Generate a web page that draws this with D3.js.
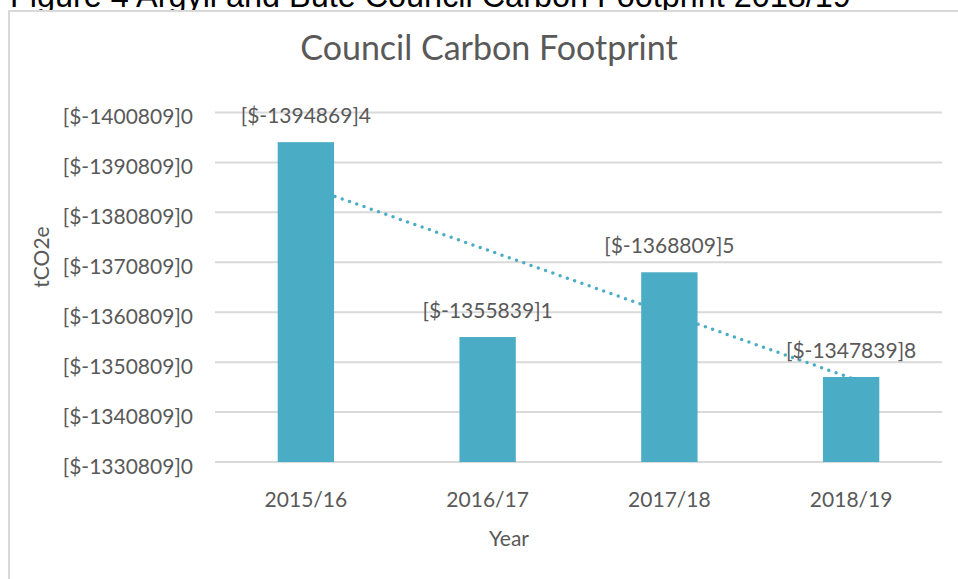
<!DOCTYPE html>
<html>
<head>
<meta charset="utf-8">
<script src="https://cdn.jsdelivr.net/npm/d3@7"></script>
<style>
  body { margin: 0; background: #fff; }
  svg { display: block; }
  text { font-family: Lato, "Open Sans", sans-serif; fill: #595959; }
</style>
</head>
<body>
<svg width="958" height="579"></svg>
<script>
// chart data
const years = ['2015/16', '2016/17', '2017/18', '2018/19'];
const emissions = [64060, 25030, 38000, 17030];
const barLabels = ['[$-1394869]4', '[$-1355839]1', '[$-1368809]5', '[$-1347839]8'];
const tickValues = [0, 10000, 20000, 30000, 40000, 50000, 60000, 70000];
const tickLabels = ['[$-1330809]0', '[$-1340809]0', '[$-1350809]0', '[$-1360809]0',
                    '[$-1370809]0', '[$-1380809]0', '[$-1390809]0', '[$-1400809]0'];

const svg = d3.select('svg');
const teal = '#4BACC6';
const grid = '#D9D9D9';

// figure caption, clipped by the top of the page
svg.append('text')
  .attr('x', 10)
  .attr('y', 7)
  .style('font-family', '"Liberation Sans", Arial, sans-serif')
  .style('font-size', '32.4px')
  .style('fill', '#000')
  .text('Figure 4 Argyll and Bute Council Carbon Footprint 2018/19');

// chart frame
svg.append('rect')
  .attr('x', 9).attr('y', 11)
  .attr('width', 1000).attr('height', 600)
  .attr('fill', '#fff')
  .attr('stroke', grid)
  .attr('stroke-width', 2);

const x = d3.scaleBand()
  .domain(years)
  .range([215, 942])
  .paddingInner(0.69)
  .paddingOuter(0.345);

const y = d3.scaleLinear()
  .domain([0, 70000])
  .range([462, 112.5]);

// gridlines
svg.append('g')
  .selectAll('line')
  .data(tickValues)
  .join('line')
  .attr('x1', 215).attr('x2', 942)
  .attr('y1', d => y(d)).attr('y2', d => y(d))
  .attr('stroke', grid)
  .attr('stroke-width', 2);

// y axis labels
const yAxis = svg.append('g')
  .attr('transform', 'translate(193,0)')
  .call(d3.axisLeft(y).tickValues(tickValues).tickSize(0).tickPadding(0)
    .tickFormat((d, i) => tickLabels[i]));
yAxis.select('.domain').remove();
yAxis.selectAll('text')
  .attr('dy', '0.62em')
  .attr('y', -2)
  .style('font-size', '21px')
  .style('font-family', 'Lato, sans-serif')
  .attr('fill', '#595959');

// x axis labels
const xAxis = svg.append('g')
  .attr('transform', 'translate(0,462)')
  .call(d3.axisBottom(x).tickSize(0).tickPadding(0));
xAxis.select('.domain').remove();
xAxis.selectAll('text')
  .attr('y', 45)
  .attr('dy', 0)
  .style('font-size', '21px')
  .style('font-family', 'Lato, sans-serif')
  .attr('fill', '#595959');

// linear trendline (drawn behind the bars)
const xi = d3.range(1, years.length + 1);
const mx = d3.mean(xi), my = d3.mean(emissions);
const slope = d3.sum(xi, (v, i) => (v - mx) * (emissions[i] - my)) / d3.sum(xi, v => (v - mx) ** 2);
const intercept = my - slope * mx;
const trend = years.map((yr, i) => ({ yr, v: intercept + slope * xi[i] }));

svg.append('path')
  .datum(trend)
  .attr('d', d3.line().x(d => x(d.yr) + x.bandwidth() / 2).y(d => y(d.v)))
  .attr('fill', 'none')
  .attr('stroke', teal)
  .attr('stroke-width', 3.5)
  .attr('stroke-linecap', 'round')
  .attr('stroke-dasharray', '0 7.7');

// bars
svg.append('g')
  .selectAll('rect')
  .data(emissions)
  .join('rect')
  .attr('x', (d, i) => x(years[i]))
  .attr('y', d => y(d))
  .attr('width', x.bandwidth())
  .attr('height', d => y(0) - y(d))
  .attr('fill', teal);

// data labels
svg.append('g')
  .selectAll('text')
  .data(emissions)
  .join('text')
  .attr('x', (d, i) => x(years[i]) + x.bandwidth() / 2)
  .attr('y', d => y(d) - 19)
  .attr('text-anchor', 'middle')
  .style('font-size', '21px')
  .text((d, i) => barLabels[i]);

// chart title
svg.append('text')
  .attr('x', 489)
  .attr('y', 60)
  .attr('text-anchor', 'middle')
  .style('font-size', '34px')
  .text('Council Carbon Footprint');

// axis titles
svg.append('text')
  .attr('transform', 'translate(49,257) rotate(-90)')
  .attr('text-anchor', 'middle')
  .style('font-size', '21px')
  .text('tCO2e');

svg.append('text')
  .attr('x', 509)
  .attr('y', 546)
  .attr('text-anchor', 'middle')
  .style('font-size', '21px')
  .text('Year');
</script>
</body>
</html>
